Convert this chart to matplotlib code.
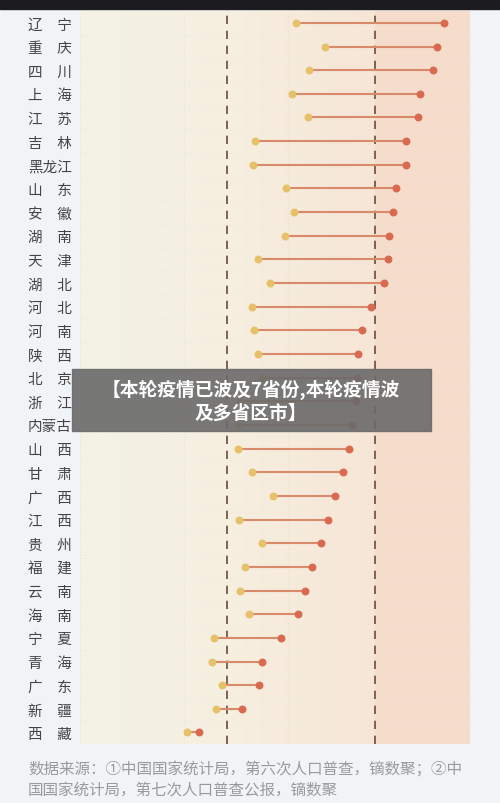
import numpy as np
import matplotlib.pyplot as plt
from matplotlib.colors import LinearSegmentedColormap

plt.rcParams['font.family'] = ['Noto Sans CJK SC', 'DejaVu Sans']

provinces = ['辽宁', '重庆', '四川', '上海', '江苏', '吉林', '黑龙江', '山东', '安徽', '湖南',
             '天津', '湖北', '河北', '河南', '陕西', '北京', '浙江', '内蒙古', '山西', '甘肃',
             '广西', '江西', '贵州', '福建', '云南', '海南', '宁夏', '青海', '广东', '新疆', '西藏']
start_vals = [55.4, 62.8, 58.7, 54.4, 58.5, 44.9, 44.4, 52.8, 54.9, 52.6,
              45.6, 48.7, 44.1, 44.6, 45.6, 46.7, 41.0, 40.5, 40.5, 44.1,
              49.5, 40.8, 46.7, 42.3, 41.0, 43.3, 34.4, 33.8, 36.4, 34.9, 27.4]
end_vals = [93.3, 91.5, 90.5, 87.2, 86.7, 83.6, 83.6, 81.0, 80.3, 79.2,
            79.0, 77.9, 74.6, 72.3, 71.3, 71.0, 70.8, 69.7, 69.0, 67.4,
            65.4, 63.6, 61.8, 59.5, 57.7, 55.9, 51.5, 46.7, 45.9, 41.5, 30.5]
ref_lines = [37.7, 75.6]
grid_x = [0, 26.7, 53.3, 80]

fig = plt.figure(figsize=(5, 8.04), dpi=100, facecolor='#f1f4f7')
ax = fig.add_axes([0.16, 0.073, 0.78, 0.912])
n = len(provinces)
ax.set_xlim(0, 100)
ax.set_ylim(n - 0.5, -0.5)

# background gradient
cmap = LinearSegmentedColormap.from_list('bg', ['#f3f3e6', '#f6efe0', '#f7e6d6'])
grad = np.linspace(0, 1, 256).reshape(1, -1)
ax.imshow(grad, cmap=cmap, extent=[0, ref_lines[1], n - 0.5, -0.5], aspect='auto', zorder=0)
ax.axvspan(ref_lines[1], 100, color='#f6dccb', zorder=0, lw=0)

for gx in grid_x:
    ax.axvline(gx, color='#e4e4d8', lw=0.8, ls=':', zorder=1)
for i in range(n):
    ax.axhline(i + 0.5, color='#ebebdf', lw=0.6, ls=':', zorder=1)
for rx in ref_lines:
    ax.axvline(rx, color='#6b4a40', lw=1.2, ls=(0, (5, 4)), zorder=2)

y = np.arange(n)
ax.hlines(y, start_vals, end_vals, color='#d98a6a', lw=1.5, zorder=3)
ax.scatter(start_vals, y, color='#e7c06a', s=22, zorder=4)
ax.scatter(end_vals, y, color='#d96a50', s=22, zorder=4)

ax.set_yticks(y)
ax.set_yticklabels([p if len(p) == 3 else p[0] + '\u3000' + p[1] for p in provinces],
                   fontsize=10.5, color='#444444')
ax.tick_params(axis='y', length=0, pad=6)
ax.set_xticks([])
for s in ax.spines.values():
    s.set_visible(False)

# top dark strip
fig.patches.append(plt.Rectangle((0, 1 - 10 / 804), 1, 10 / 804, transform=fig.transFigure,
                                 color='#1c1c1e', zorder=0))

# overlay banner
fig.patches.append(plt.Rectangle((72 / 500, 1 - 432 / 804), 359 / 500, 62 / 804,
                                 transform=fig.transFigure, color='#6a6a6a', alpha=0.9, zorder=10))
fig.text(251 / 500, 1 - 401 / 804, '【本轮疫情已波及7省份,本轮疫情波\n及多省区市】', ha='center', va='center',
         color='white', fontsize=13.5, fontweight='bold', linespacing=1.25, zorder=11)

fig.text(28 / 500, 1 - 780 / 804, '数据来源：①中国国家统计局，第六次人口普查，镝数聚；②中\n国国家统计局，第七次人口普查公报，镝数聚',
         ha='left', va='center', color='#9a9a9a', fontsize=11.2, linespacing=1.35)

fig.savefig('out.png', dpi=100, facecolor=fig.get_facecolor())
